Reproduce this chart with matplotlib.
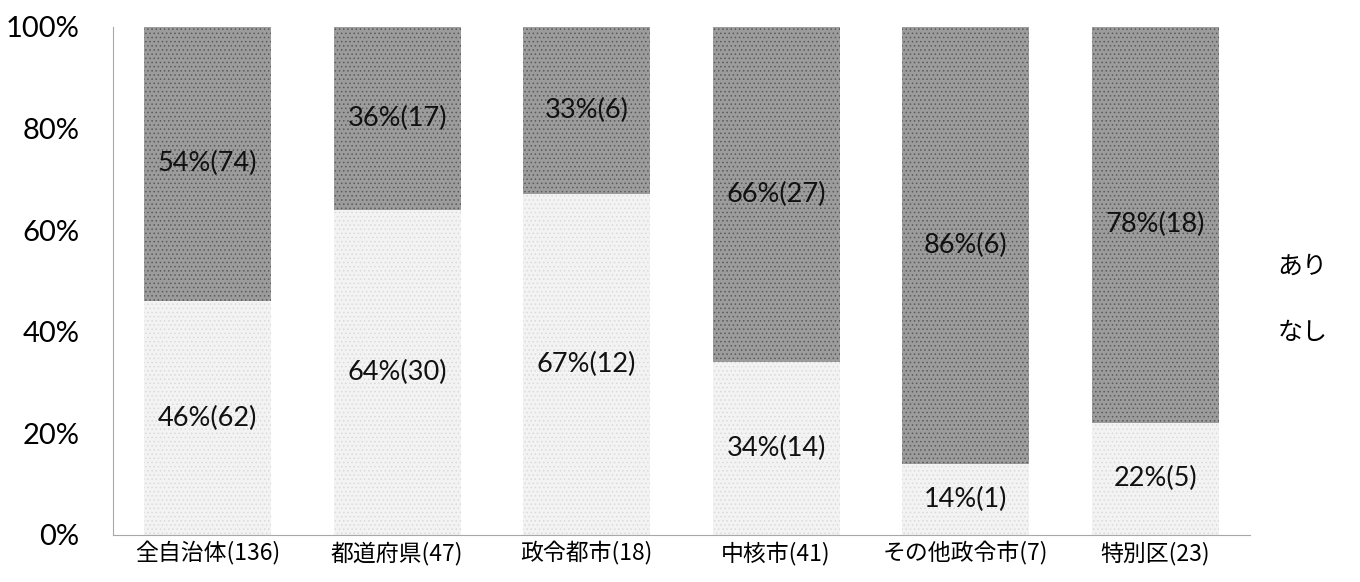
import matplotlib.pyplot as plt
from matplotlib.patches import Patch

plt.rcParams['font.family'] = ['Lato', 'Noto Sans CJK JP', 'DejaVu Sans']
plt.rcParams['hatch.linewidth'] = 0.6

# 団体区分ごとの件数と割合
categories = ['全自治体(136)', '都道府県(47)', '政令都市(18)', '中核市(41)', 'その他政令市(7)', '特別区(23)']
nashi_pct = [46, 64, 67, 34, 14, 22]
nashi_n = [62, 30, 12, 14, 1, 5]
ari_pct = [54, 36, 33, 66, 86, 78]
ari_n = [74, 17, 6, 27, 6, 18]

fig = plt.figure(figsize=(13.6, 5.82), dpi=100)
ax = fig.add_axes([0.083, 0.081, 0.836, 0.873])

x = range(len(categories))
w = 0.67
b1 = ax.bar(x, nashi_pct, width=w, color='#f3f3f3', hatch='....',
            edgecolor='#dadada', linewidth=0, label='なし')
b2 = ax.bar(x, ari_pct, width=w, bottom=nashi_pct, color='#9c9c9c', hatch='....',
            edgecolor='#5a5a5a', linewidth=0, label='あり')

for i in x:
    ax.text(i, nashi_pct[i] / 2, f'{nashi_pct[i]}%({nashi_n[i]})',
            ha='center', va='center', fontsize=19.5, color='#111111')
    ax.text(i, nashi_pct[i] + ari_pct[i] / 2, f'{ari_pct[i]}%({ari_n[i]})',
            ha='center', va='center', fontsize=19.5, color='#111111')

ax.set_xlim(-0.5, len(categories) - 0.5)
ax.set_ylim(0, 100)
ax.set_yticks([0, 20, 40, 60, 80, 100])
ax.set_yticklabels([f'{v}%' for v in [0, 20, 40, 60, 80, 100]], fontsize=21)
ax.set_xticks(list(x))
ax.set_xticklabels(categories, fontsize=16.5,
                   family=['Noto Sans CJK JP', 'DejaVu Sans'])
ax.tick_params(axis='y', length=0, pad=24)
ax.tick_params(axis='x', length=0, pad=5)

for s in ['top', 'right']:
    ax.spines[s].set_visible(False)
ax.spines['left'].set_color('#a8a8a8')
ax.spines['bottom'].set_color('#a8a8a8')
ax.spines['left'].set_linewidth(0.8)
ax.spines['bottom'].set_linewidth(0.8)

# 凡例(マーカーは表示しない)
handles = [Patch(facecolor='none', edgecolor='none', label='あり'),
           Patch(facecolor='none', edgecolor='none', label='なし')]
fig.legend(handles=handles, loc='center left', bbox_to_anchor=(0.923, 0.485),
           frameon=False, handlelength=0, handletextpad=0,
           labelspacing=1.6, prop={'family': ['Noto Sans CJK JP'], 'size': 18})

fig.savefig('out.png', dpi=100)
